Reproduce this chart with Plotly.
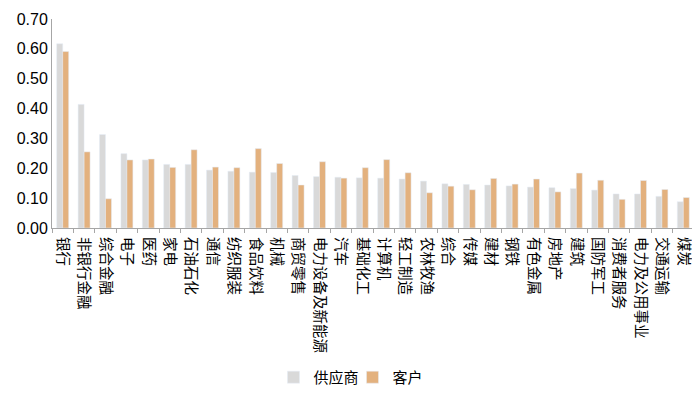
import plotly.graph_objects as go

# 行业分类
industries = ['银行', '非银行金融', '综合金融', '电子', '医药', '家电', '石油石化', '通信',
              '纺织服装', '食品饮料', '机械', '商贸零售', '电力设备及新能源', '汽车', '基础化工',
              '计算机', '轻工制造', '农林牧渔', '综合', '传媒', '建材', '钢铁', '有色金属',
              '房地产', '建筑', '国防军工', '消费者服务', '电力及公用事业', '交通运输', '煤炭']

supplier = [0.617, 0.414, 0.313, 0.249, 0.228, 0.213, 0.213, 0.194, 0.190, 0.187,
            0.186, 0.176, 0.172, 0.170, 0.168, 0.167, 0.164, 0.157, 0.148, 0.146,
            0.144, 0.141, 0.137, 0.135, 0.132, 0.127, 0.114, 0.114, 0.106, 0.088]

customer = [0.591, 0.255, 0.098, 0.228, 0.231, 0.203, 0.262, 0.204, 0.202, 0.266,
            0.216, 0.144, 0.222, 0.167, 0.202, 0.229, 0.185, 0.118, 0.140, 0.128,
            0.166, 0.147, 0.164, 0.121, 0.184, 0.160, 0.096, 0.159, 0.129, 0.102]

fig = go.Figure()
fig.add_trace(go.Bar(x=industries, y=supplier, name='供应商', marker_color='#D9D9D9'))
fig.add_trace(go.Bar(x=industries, y=customer, name='客户', marker_color='#E3B17E'))

# 页面 body 默认有 8px 边距，所以图宽高各减 8
fig.update_layout(
    width=692, height=392,
    barmode='group', bargap=0.44, bargroupgap=0,
    plot_bgcolor='white', paper_bgcolor='white',
    margin=dict(l=44, r=6, t=11, b=167),
    font=dict(family='Noto Sans CJK SC, Liberation Sans, Arial', color='#000000'),
    legend=dict(orientation='h', x=0.345, xanchor='left', y=-0.715, yanchor='middle',
                font=dict(size=15), itemwidth=30, entrywidth=34, traceorder='normal'),
    showlegend=True,
)
fig.update_xaxes(
    type='category', tickangle=90, tickfont=dict(size=14.5), ticklabelstandoff=5,
    showline=True, linecolor='#A6A6A6', linewidth=1,
    ticks='outside', tickson='boundaries', ticklen=4, tickcolor='#A6A6A6',
    showgrid=False, automargin=False,
)
fig.update_yaxes(
    range=[0, 0.7], dtick=0.1, tickformat='.2f',
    tickfont=dict(size=16, family='Liberation Sans, Arial'),
    showline=True, linecolor='#A6A6A6', linewidth=1,
    showgrid=False, zeroline=False, ticks='', automargin=False,
)

fig.write_html("out.html")
